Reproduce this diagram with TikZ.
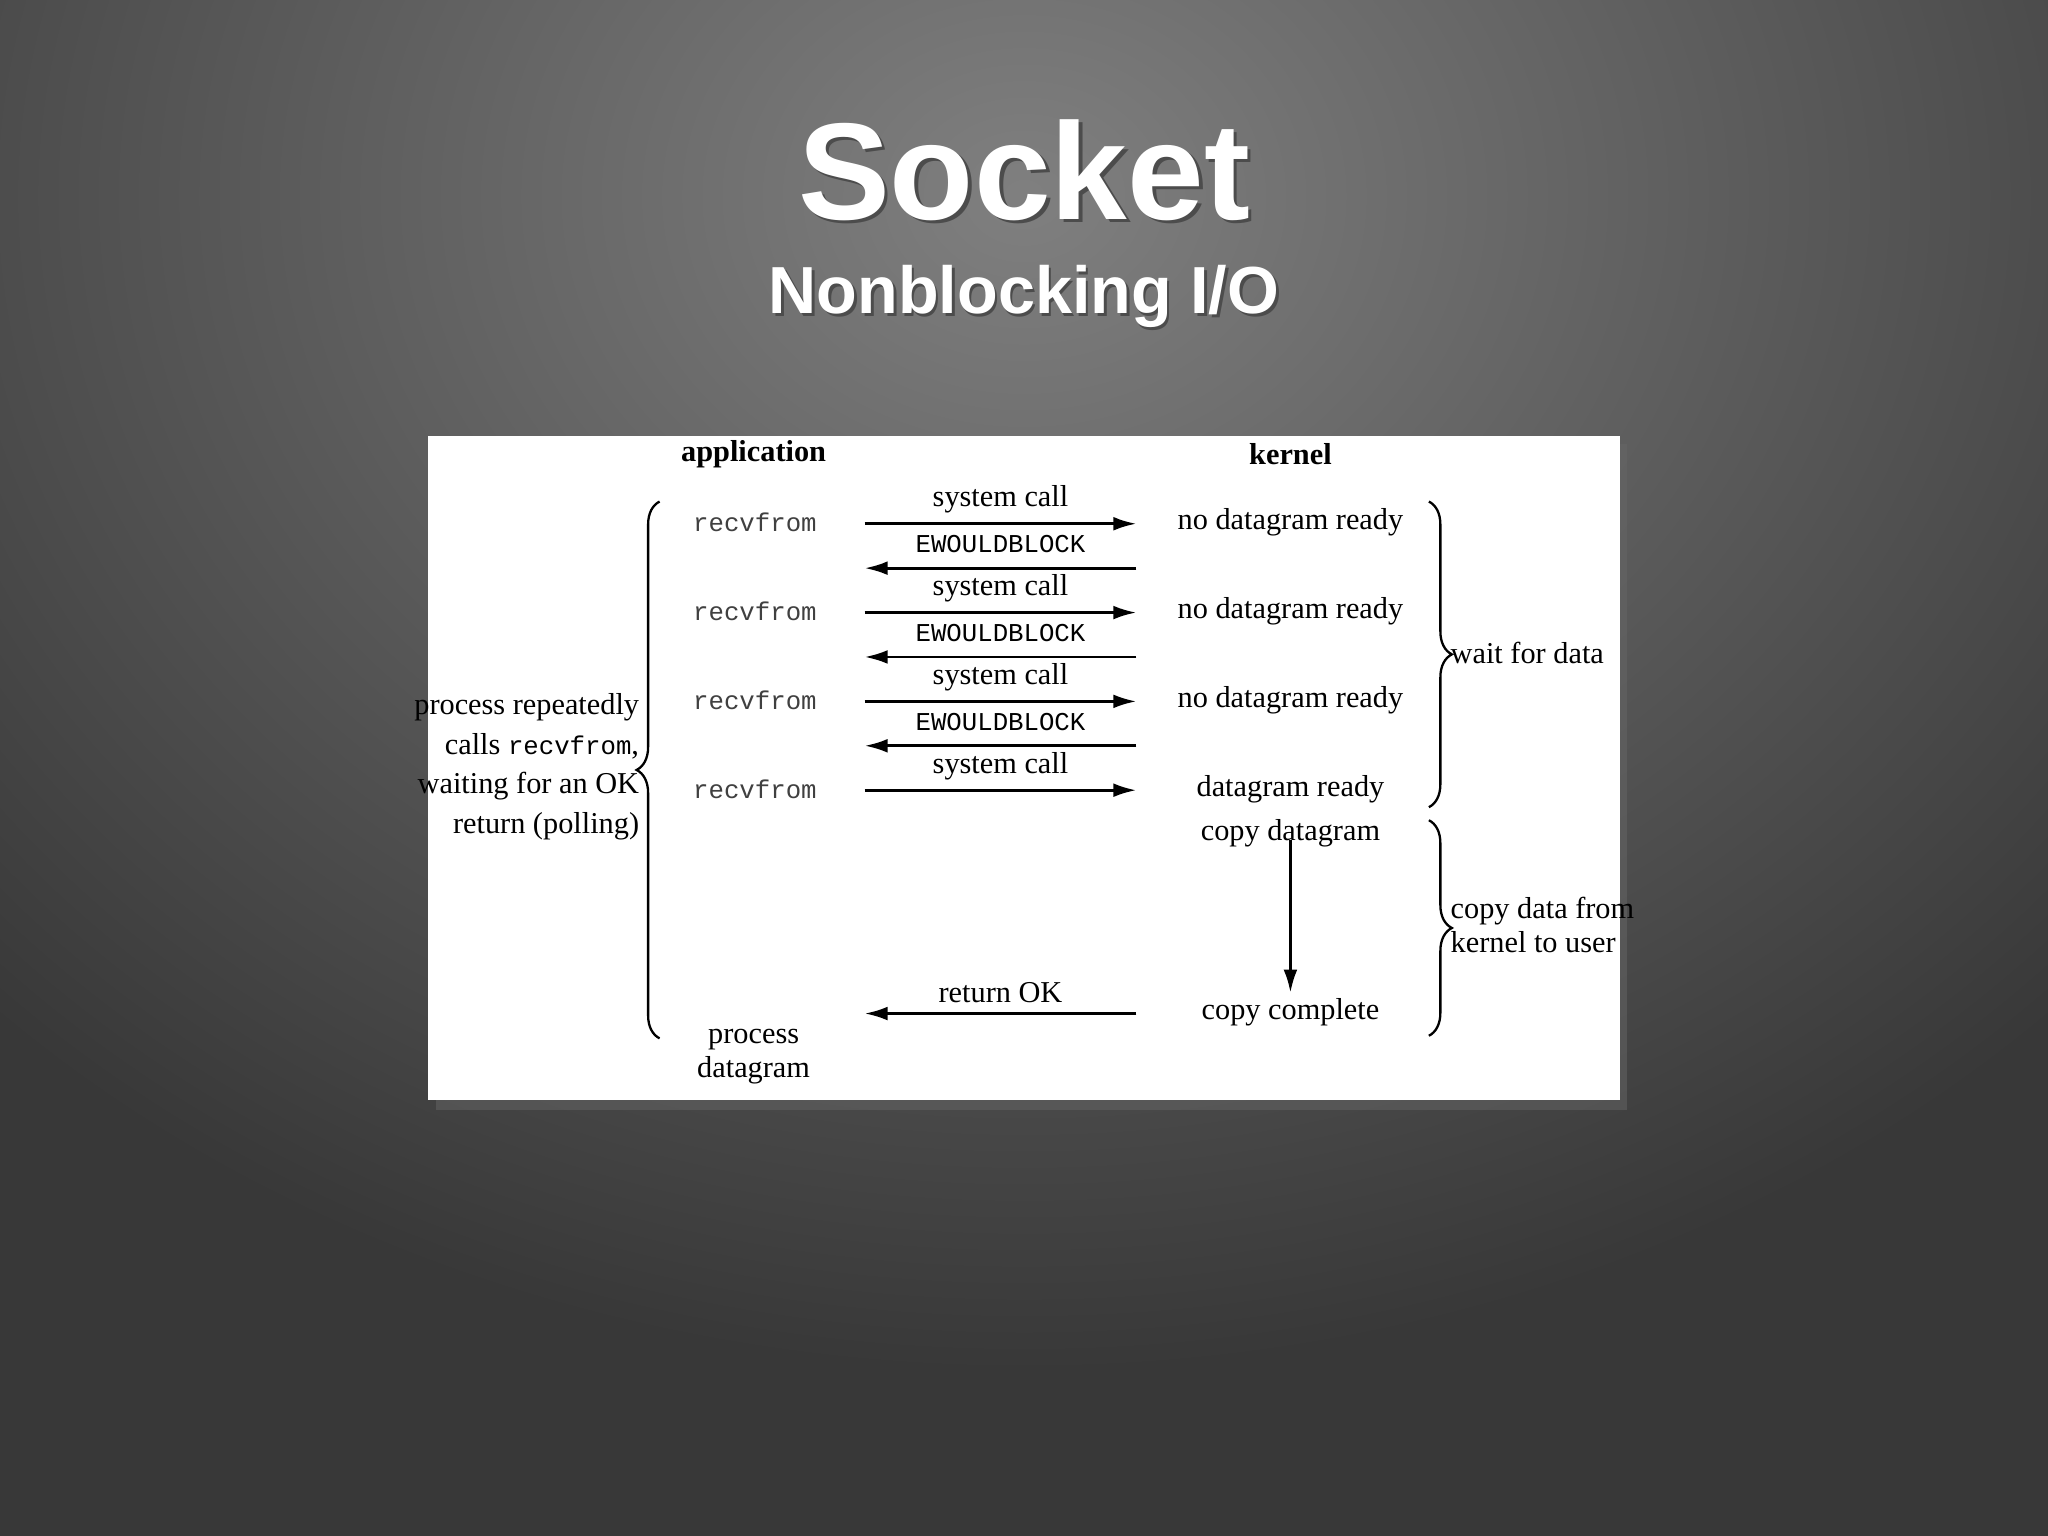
\documentclass[tikz,border=0pt]{standalone}
\usepackage{fontspec}
\setmainfont{Liberation Serif}
\setmonofont{Liberation Mono}
\newfontfamily\titlefont{Liberation Sans}
\usetikzlibrary{arrows.meta,decorations.pathreplacing,shadows}
\tikzset{
  lbl/.style={font=\fontsize{6.6}{7.5}\selectfont, inner sep=0pt},
  ttl/.style={font=\fontsize{5.6}{6.5}\selectfont\ttfamily, inner sep=0pt},
  arr/.style={-{Latex[length=5pt,width=3pt]}, line width=0.6pt},
  brc/.style={decorate, decoration={brace, amplitude=5pt}, line width=0.5pt},
}
\begin{document}
\begin{tikzpicture}[x=0.01cm,y=-0.01cm]
\useasboundingbox (0,0) rectangle (1568,1176);
\begin{scope}
\clip (0,0) rectangle (1568,1176);
\fill[black!78] (0,0) rectangle (1568,1176);
\shade[inner color=black!50, outer color=black!78] (784,150) ellipse (1100 and 900);
\end{scope}
% title
\node[text=black!70, font=\titlefont\bfseries\fontsize{30}{34}\selectfont] at (787,133) {Socket};
\node[text=white, font=\titlefont\bfseries\fontsize{30}{34}\selectfont] (title) at (784,130) {Socket};
\node[text=black!70, font=\titlefont\bfseries\fontsize{14.5}{17}\selectfont] at (786,229) {Nonblocking I/O};
\node[text=white, font=\titlefont\bfseries\fontsize{14.5}{17}\selectfont] (sub) at (784,227) {Nonblocking I/O};
% panel
\fill[black!60, opacity=0.5] (334,340) rectangle (1246,850);
\fill[white] (328,334) rectangle (1240,842);
\node[lbl, font=\fontsize{6.6}{7.5}\selectfont\bfseries] (app) at (577,348) {application};
\node[lbl, font=\fontsize{6.6}{7.5}\selectfont\bfseries] (ker) at (988,348) {kernel};
% rows
\foreach \i/\y/\k in {1/400/no datagram ready,2/468/no datagram ready,3/536/no datagram ready,4/604/datagram ready}{
  \node[ttl, text=black!75] (r\i) at (578,\y) {recvfrom};
  \node[lbl] (k\i) at (988,\y) {\k};
  \coordinate (a\i) at (662,\y+1);
  \coordinate (b\i) at (870,\y+1);
  \draw[arr] (a\i) -- node[lbl, above=2pt] {system call} (b\i);
}
\foreach \i/\y in {1/435,2/503,3/571}{
  \coordinate (c\i) at (870,\y);
  \coordinate (d\i) at (662,\y);
  \draw[arr] (c\i) -- node[ttl, above=3pt] {EWOULDBLOCK} (d\i);
}
\node[lbl] (cd) at (988,638) {copy datagram};
\node[lbl] (cc) at (988,775) {copy complete};
\draw[arr] (cd.south)+(0,-6) coordinate (cdt) (cdt) -- (988,760) coordinate (cce);
\coordinate (ok1) at (870,776);
\coordinate (ok2) at (662,776);
\draw[arr] (ok1) -- node[lbl, above=2pt] {return OK} (ok2);
\node[lbl, align=center] (pd) at (577,809) {process\\datagram};
% left brace
\draw[brc] (505,795) -- (505,384);
\node[lbl, align=right, anchor=east, font=\fontsize{6.6}{8.6}\selectfont] (lt) at (490,587) {process repeatedly\\calls {\ttfamily\fontsize{5.6}{6}\selectfont recvfrom},\\waiting for an OK\\return (polling)};
% right braces
\draw[brc] (1094,384) -- (1094,618);
\node[lbl, anchor=west] (wd) at (1110,500) {wait for data};
\draw[brc] (1094,628) -- (1094,793);
\node[lbl, anchor=west, align=left] (cdk) at (1110,708) {copy data from\\kernel to user};
\end{tikzpicture}
\end{document}
